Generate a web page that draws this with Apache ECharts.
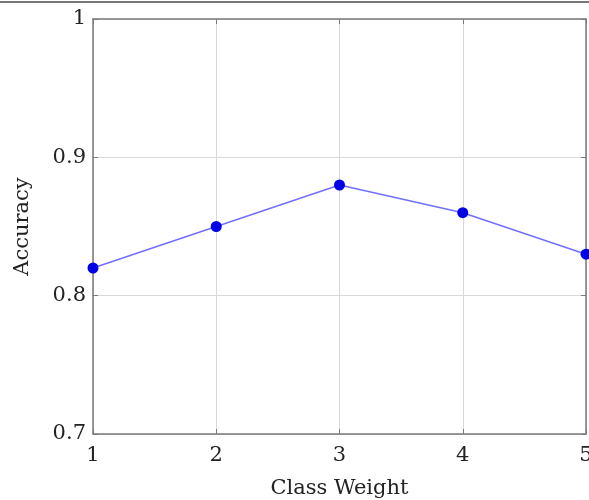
<!DOCTYPE html>
<html><head><meta charset="utf-8">
<script src="https://cdn.jsdelivr.net/npm/echarts@6/dist/echarts.min.js"></script>
<style>html,body{margin:0;padding:0;background:#fff}#c{width:589px;height:500px}</style>
</head><body><div id="c"></div>
<script>
var categories = [1, 2, 3, 4, 5];
var accuracy = [0.82, 0.85, 0.88, 0.86, 0.83];
var yTicks = [0.7, 0.8, 0.9, 1];

var font = '"DejaVu Serif", "Liberation Serif", serif';
var chart = echarts.init(document.getElementById('c'));
var data = categories.map(function (c, i) { return [c, accuracy[i]]; });
var axColor = '#7a7a7a';
chart.setOption({
  animation: false,
  grid: { left: 93, right: 3, top: 19, bottom: 66, outerBoundsMode: 'none', containLabel: false },
  graphic: [{ type: 'line', shape: { x1: 0, y1: 2, x2: 589, y2: 2 }, style: { stroke: '#777', lineWidth: 2 } }],
  xAxis: [{
    type: 'value', min: 1, max: 5, interval: 1,
    name: 'Class Weight', nameLocation: 'middle', nameGap: 44,
    nameTextStyle: { fontFamily: font, fontSize: 21, color: '#222' },
    axisLine: { lineStyle: { color: axColor, width: 1.5 } },
    axisTick: { show: true, inside: true, length: 5, lineStyle: { color: axColor } },
    axisLabel: { fontFamily: font, fontSize: 21, color: '#222', margin: 11, showMaxLabel: true, hideOverlap: false,
      formatter: function (v) { return String(categories[categories.indexOf(v)]); } },
    splitLine: { show: true, lineStyle: { color: '#d8d8d8', width: 1 } }
  }, {
    type: 'value', position: 'top', min: 1, max: 5, interval: 1,
    axisLine: { show: true, lineStyle: { color: axColor, width: 1.5 } },
    axisTick: { show: true, inside: true, length: 5, lineStyle: { color: axColor } },
    axisLabel: { show: false }, splitLine: { show: false }
  }],
  yAxis: [{
    type: 'value', min: 0.7, max: 1, interval: 0.1,
    name: 'Accuracy', nameLocation: 'middle', nameGap: 60, nameRotate: 90,
    nameTextStyle: { fontFamily: font, fontSize: 21, color: '#222' },
    axisLine: { show: true, lineStyle: { color: axColor, width: 1.5 } },
    axisTick: { show: true, inside: true, length: 5, lineStyle: { color: axColor } },
    axisLabel: { fontFamily: font, fontSize: 21, color: '#222', margin: 7,
      formatter: function (v) { var t = yTicks.filter(function (y) { return Math.abs(y - v) < 1e-9; })[0]; return t === undefined ? '' : String(t); } },
    splitLine: { show: true, lineStyle: { color: '#d8d8d8', width: 1 } }
  }, {
    type: 'value', position: 'right', min: 0.7, max: 1, interval: 0.1,
    axisLine: { show: true, lineStyle: { color: axColor, width: 1.5 } },
    axisTick: { show: true, inside: true, length: 5, lineStyle: { color: axColor } },
    axisLabel: { show: false }, splitLine: { show: false }
  }],
  series: [{
    type: 'line', data: data,
    symbol: 'circle', symbolSize: 11,
    lineStyle: { color: '#7070ff', width: 1.5 },
    itemStyle: { color: '#0000e6' }
  }]
});
</script></body></html>
